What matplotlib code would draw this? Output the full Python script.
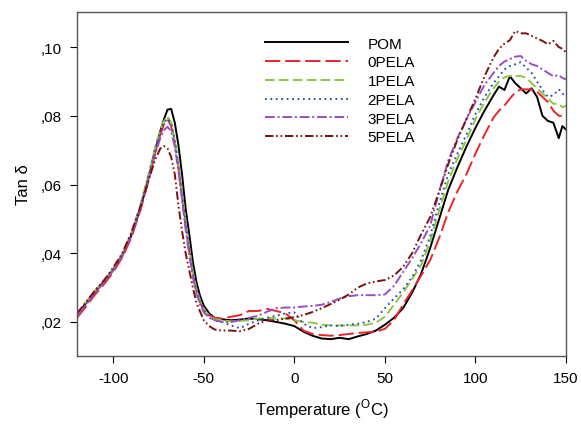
import matplotlib
matplotlib.use("Agg")
import matplotlib.pyplot as plt
from matplotlib.ticker import FuncFormatter

plt.rcParams['font.family'] = ['Liberation Sans', 'DejaVu Sans']
plt.rcParams['lines.scale_dashes'] = False
plt.rcParams['axes.unicode_minus'] = False

# temperature grid (deg C)
temp = [-120, -115, -110, -105, -100, -95, -90, -85, -80, -77, -74, -72,
        -70, -68, -66, -64, -62, -60, -58, -56, -54, -52, -50, -47, -44,
        -40, -35, -30, -25, -20, -15, -10, -5, 0, 5, 10, 15, 20, 25, 30, 35,
        40, 45, 50, 55, 60, 65, 70, 75, 80, 85, 90, 95, 100, 105, 110,
        113, 116, 119, 122, 125, 128, 131, 134, 137, 140, 143, 146, 148, 150]

pom = [0.0222, 0.0255, 0.0290, 0.0318, 0.0352, 0.0392, 0.0452, 0.0530, 0.0630, 0.0695, 0.0755, 0.0790,
       0.0818, 0.0820, 0.0780, 0.0715, 0.0630, 0.0530, 0.0455, 0.0375, 0.0315, 0.0275, 0.0248, 0.0225, 0.0212,
       0.0208, 0.0205, 0.0207, 0.0210, 0.0208, 0.0205, 0.0200, 0.0195, 0.0188, 0.0172, 0.0160, 0.0152, 0.0150, 0.0154, 0.0150, 0.0158,
       0.0165, 0.0175, 0.0192, 0.0212, 0.0240, 0.0285, 0.0340, 0.0415, 0.0500, 0.0585, 0.0650, 0.0710, 0.0765, 0.0815, 0.0860,
       0.0885, 0.0875, 0.0915, 0.0895, 0.0880, 0.0865, 0.0880, 0.0855, 0.0800, 0.0785, 0.0780, 0.0735, 0.0770, 0.0760]

pela0 = [0.0212, 0.0245, 0.0280, 0.0310, 0.0345, 0.0388, 0.0445, 0.0525, 0.0620, 0.0690, 0.0745, 0.0775,
         0.0790, 0.0770, 0.0720, 0.0650, 0.0565, 0.0480, 0.0405, 0.0340, 0.0290, 0.0258, 0.0235, 0.0220, 0.0212,
         0.0210, 0.0215, 0.0220, 0.0232, 0.0232, 0.0238, 0.0232, 0.0225, 0.0205, 0.0175, 0.0165, 0.0162, 0.0160, 0.0162, 0.0165, 0.0168,
         0.0170, 0.0172, 0.0180, 0.0205, 0.0250, 0.0292, 0.0335, 0.0380, 0.0445, 0.0520, 0.0580, 0.0630, 0.0690, 0.0745, 0.0795,
         0.0815, 0.0830, 0.0850, 0.0868, 0.0877, 0.0877, 0.0877, 0.0870, 0.0855, 0.0840, 0.0815, 0.0800, 0.0800, 0.0800]

pela1 = [0.0220, 0.0258, 0.0292, 0.0320, 0.0355, 0.0398, 0.0460, 0.0540, 0.0640, 0.0705, 0.0760, 0.0785,
         0.0798, 0.0780, 0.0730, 0.0660, 0.0575, 0.0490, 0.0415, 0.0345, 0.0295, 0.0262, 0.0238, 0.0218, 0.0208,
         0.0205, 0.0202, 0.0203, 0.0205, 0.0210, 0.0212, 0.0210, 0.0210, 0.0205, 0.0200, 0.0198, 0.0192, 0.0190, 0.0190, 0.0190, 0.0190,
         0.0192, 0.0198, 0.0215, 0.0250, 0.0285, 0.0325, 0.0365, 0.0435, 0.0525, 0.0610, 0.0675, 0.0730, 0.0790, 0.0840, 0.0880,
         0.0900, 0.0912, 0.0916, 0.0916, 0.0916, 0.0910, 0.0895, 0.0880, 0.0865, 0.0850, 0.0835, 0.0835, 0.0825, 0.0829]

pela2 = [0.0218, 0.0252, 0.0288, 0.0318, 0.0352, 0.0395, 0.0455, 0.0535, 0.0635, 0.0700, 0.0755, 0.0780,
         0.0792, 0.0778, 0.0728, 0.0655, 0.0570, 0.0485, 0.0410, 0.0342, 0.0292, 0.0258, 0.0235, 0.0215, 0.0205,
         0.0200, 0.0190, 0.0182, 0.0195, 0.0205, 0.0212, 0.0218, 0.0225, 0.0228, 0.0195, 0.0182, 0.0185, 0.0190, 0.0188, 0.0192, 0.0195,
         0.0200, 0.0210, 0.0240, 0.0268, 0.0295, 0.0330, 0.0380, 0.0450, 0.0545, 0.0630, 0.0690, 0.0745, 0.0805, 0.0855, 0.0895,
         0.0915, 0.0935, 0.0945, 0.0950, 0.0956, 0.0940, 0.0925, 0.0900, 0.0875, 0.0855, 0.0860, 0.0877, 0.0865, 0.0858]

pela3 = [0.0215, 0.0250, 0.0285, 0.0315, 0.0350, 0.0392, 0.0450, 0.0528, 0.0625, 0.0685, 0.0735, 0.0758,
         0.0768, 0.0755, 0.0710, 0.0640, 0.0555, 0.0468, 0.0395, 0.0330, 0.0282, 0.0250, 0.0228, 0.0212, 0.0205,
         0.0200, 0.0200, 0.0205, 0.0212, 0.0218, 0.0230, 0.0240, 0.0242, 0.0242, 0.0245, 0.0247, 0.0250, 0.0258, 0.0268, 0.0275, 0.0278,
         0.0278, 0.0278, 0.0280, 0.0305, 0.0345, 0.0385, 0.0430, 0.0480, 0.0580, 0.0670, 0.0735, 0.0790, 0.0840, 0.0890, 0.0925,
         0.0945, 0.0958, 0.0965, 0.0972, 0.0974, 0.0960, 0.0950, 0.0945, 0.0935, 0.0925, 0.0915, 0.0918, 0.0910, 0.0906]

pela5 = [0.0225, 0.0258, 0.0292, 0.0322, 0.0358, 0.0400, 0.0460, 0.0535, 0.0620, 0.0670, 0.0705, 0.0712,
         0.0705, 0.0680, 0.0630, 0.0540, 0.0465, 0.0400, 0.0350, 0.0300, 0.0255, 0.0230, 0.0205, 0.0188, 0.0178,
         0.0175, 0.0175, 0.0173, 0.0180, 0.0195, 0.0205, 0.0205, 0.0210, 0.0214, 0.0220, 0.0229, 0.0240, 0.0252, 0.0265, 0.0280, 0.0300,
         0.0312, 0.0318, 0.0322, 0.0335, 0.0360, 0.0400, 0.0455, 0.0505, 0.0580, 0.0660, 0.0730, 0.0790, 0.0850, 0.0915, 0.0970,
         0.0995, 0.1010, 0.1020, 0.1047, 0.1040, 0.1040, 0.1033, 0.1025, 0.1018, 0.1008, 0.1018, 0.1000, 0.0995, 0.0985]

labels = ['POM', '0PELA', '1PELA', '2PELA', '3PELA', '5PELA']
series = [pom, pela0, pela1, pela2, pela3, pela5]
colors = ['#000000', '#e8262a', '#8dc63f', '#2f4fb5', '#9a4fc0', '#7b1010']
dashes = [None, (11, 3.5), (7, 3), (1.3, 2.6), (7, 2, 1.5, 2), (6, 2, 1.2, 2, 1.2, 2)]

fig = plt.figure(figsize=(5.81, 4.31), dpi=100)
ax = fig.add_axes([0.1325, 0.1717, 0.8417, 0.7981])

for y, lab, c, d in zip(series, labels, colors, dashes):
    if d is None:
        ax.plot(temp, y, color=c, lw=1.4, label=lab)
    else:
        ax.plot(temp, y, color=c, lw=1.4, dashes=d, label=lab)

ax.set_xlim(-120, 150)
ax.set_ylim(0.0101, 0.1102)
ax.set_xticks([-100, -50, 0, 50, 100, 150])
ax.set_yticks([0.02, 0.04, 0.06, 0.08, 0.10])
ax.yaxis.set_major_formatter(FuncFormatter(lambda v, p: f"{v:.2f}"[1:].replace('.', ',')))
ax.tick_params(direction='out', length=5, width=0.8, labelsize=11, pad=6,
               top=False, right=False)
for s in ax.spines.values():
    s.set_color('#555555')
    s.set_linewidth(1.0)

ax.set_xlabel('Temperature ($^\\mathregular{O}$C)', fontsize=12, labelpad=8)
ax.set_ylabel('Tan δ', fontsize=12, labelpad=7)

ax.legend(loc='upper left', bbox_to_anchor=(0.366, 0.955), frameon=False,
          fontsize=11, handlelength=5.4, handletextpad=1.3, labelspacing=0.31,
          borderaxespad=0.2)

fig.savefig('out.png', dpi=100)
